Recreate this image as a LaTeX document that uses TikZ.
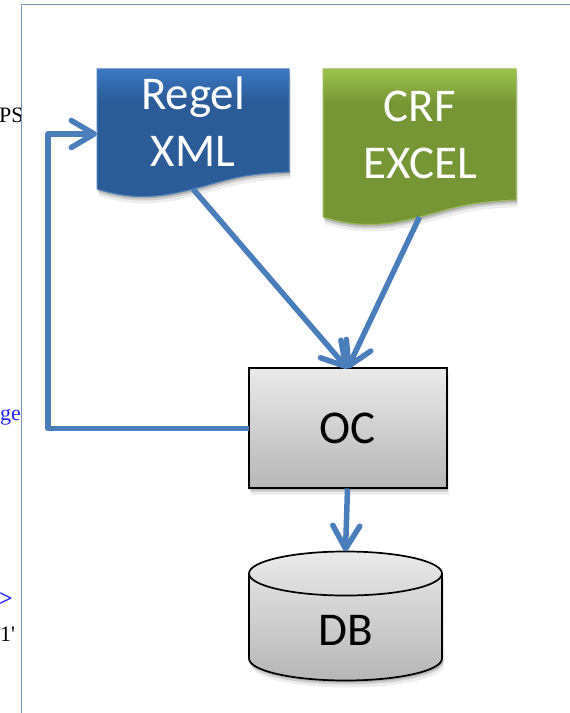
\documentclass[tikz,border=0pt]{standalone}
\usepackage{fontspec}
\setmainfont{Carlito}
\newfontfamily\pagefont{Liberation Serif}
\usetikzlibrary{arrows.meta, positioning, shadows, shapes.geometric}

\definecolor{linkblue}{HTML}{4A7EBB}
\definecolor{framecol}{HTML}{7593B4}
\definecolor{regeltop}{HTML}{3B78C2}
\definecolor{regelbase}{HTML}{2C5C98}
\definecolor{regeledge}{HTML}{4A7EBB}
\definecolor{crftop}{HTML}{9BC24C}
\definecolor{crfbase}{HTML}{769535}
\definecolor{crfedge}{HTML}{9BBB59}
\definecolor{greytop}{HTML}{EAEAEA}
\definecolor{greybase}{HTML}{B6B6B6}

\pgfdeclareverticalshading{regelshade}{100bp}{color(0bp)=(regelbase); color(63bp)=(regelbase); color(75bp)=(regeltop); color(100bp)=(regeltop)}
\pgfdeclareverticalshading{crfshade}{100bp}{color(0bp)=(crfbase); color(64bp)=(crfbase); color(75bp)=(crftop); color(100bp)=(crftop)}

\tikzset{
    softshadow/.style={
        drop shadow={shadow xshift=1pt, shadow yshift=-2pt, opacity=.16, fill=black},
        drop shadow={shadow xshift=1pt, shadow yshift=-4pt, opacity=.12, fill=black},
        drop shadow={shadow xshift=2pt, shadow yshift=-7pt, opacity=.07, fill=black}},
    docbox/.style={rectangle, inner sep=0pt, outer sep=0pt},
    doctext/.style={align=center, text=white, font=\fontsize{47}{57}\selectfont},
    greytext/.style={font=\fontsize{47}{57}\selectfont},
    process/.style={rectangle, draw=black, line width=2pt, outer sep=0pt,
        top color=greytop, bottom color=greybase, softshadow},
    store/.style={cylinder, shape border rotate=90, aspect=.72, draw=black, line width=1.7pt,
        outer sep=0pt, top color=greytop, bottom color=greybase, softshadow},
    link/.style={draw=linkblue, line width=5.5pt, line join=round,
        -{Straight Barb[length=23pt, width=27pt, round]}},
    edgetext/.style={font=\pagefont\fontsize{22}{22}\selectfont, anchor=base west, inner sep=0pt}
}

% wavy lower edge, hung on the corners of a docbox node
\newcommand{\docshape}[3]{
    \path[shading=#2, draw=#3, line width=1pt, softshadow]
        (#1.south west) .. controls +(35,-11) and +(-35,-9) .. (#1.south)
        .. controls +(35,9) and +(-50,-2) .. ([yshift=17pt]#1.south east)
        -- (#1.north east) -- (#1.north west) -- cycle;
}

\begin{document}
\begin{tikzpicture}[x=1pt, y=1pt]
    \useasboundingbox (0,0) rectangle (570,713);

    % page frame and what is left of the text behind it
    \begin{scope}
        \clip (0,0) rectangle (21,713);
        \node[edgetext] (pagea) at (-1,590) {PS};
        \node[edgetext, text=blue!85!white] (pageb) at (0,292) {ge};
        \node[edgetext, text=blue!85!white, font=\pagefont\bfseries\fontsize{24}{24}\selectfont] (pagec) at (-1,106) {>};
        \node[edgetext] (paged) at (0,71) {1'};
    \end{scope}
    \draw[framecol, line width=1pt] (21,0) -- (21,708) -- (570,708);

    % documents
    \node[docbox, minimum width=192pt, minimum height=120pt] (regel) at (193,584) {};
    \docshape{regel}{regelshade}{regeledge}
    \node[doctext] (regeltext) at (193,591) {Regel\\XML};

    \node[docbox, minimum width=193pt, minimum height=148pt] (crf) at (419.5,570) {};
    \docshape{crf}{crfshade}{crfedge}
    \node[doctext] (crftext) at (420,578) {CRF\\EXCEL};

    % middle box and database
    \node[process, minimum width=198pt, minimum height=120pt, greytext] (oc) at (347.5,284.5) {OC};
    \node[store, minimum width=193pt, minimum height=129pt, greytext, below=63pt of oc, xshift=-2pt] (db) {DB};

    \draw[link] (regel.south) -- (oc.north);
    \draw[link] (crf.south) -- (oc.north);
    \draw[link] (oc.south) -- (db.north);
    \draw[link] (oc.west) -| (48,579) -- ([yshift=-5pt]regel.west);
\end{tikzpicture}
\end{document}
